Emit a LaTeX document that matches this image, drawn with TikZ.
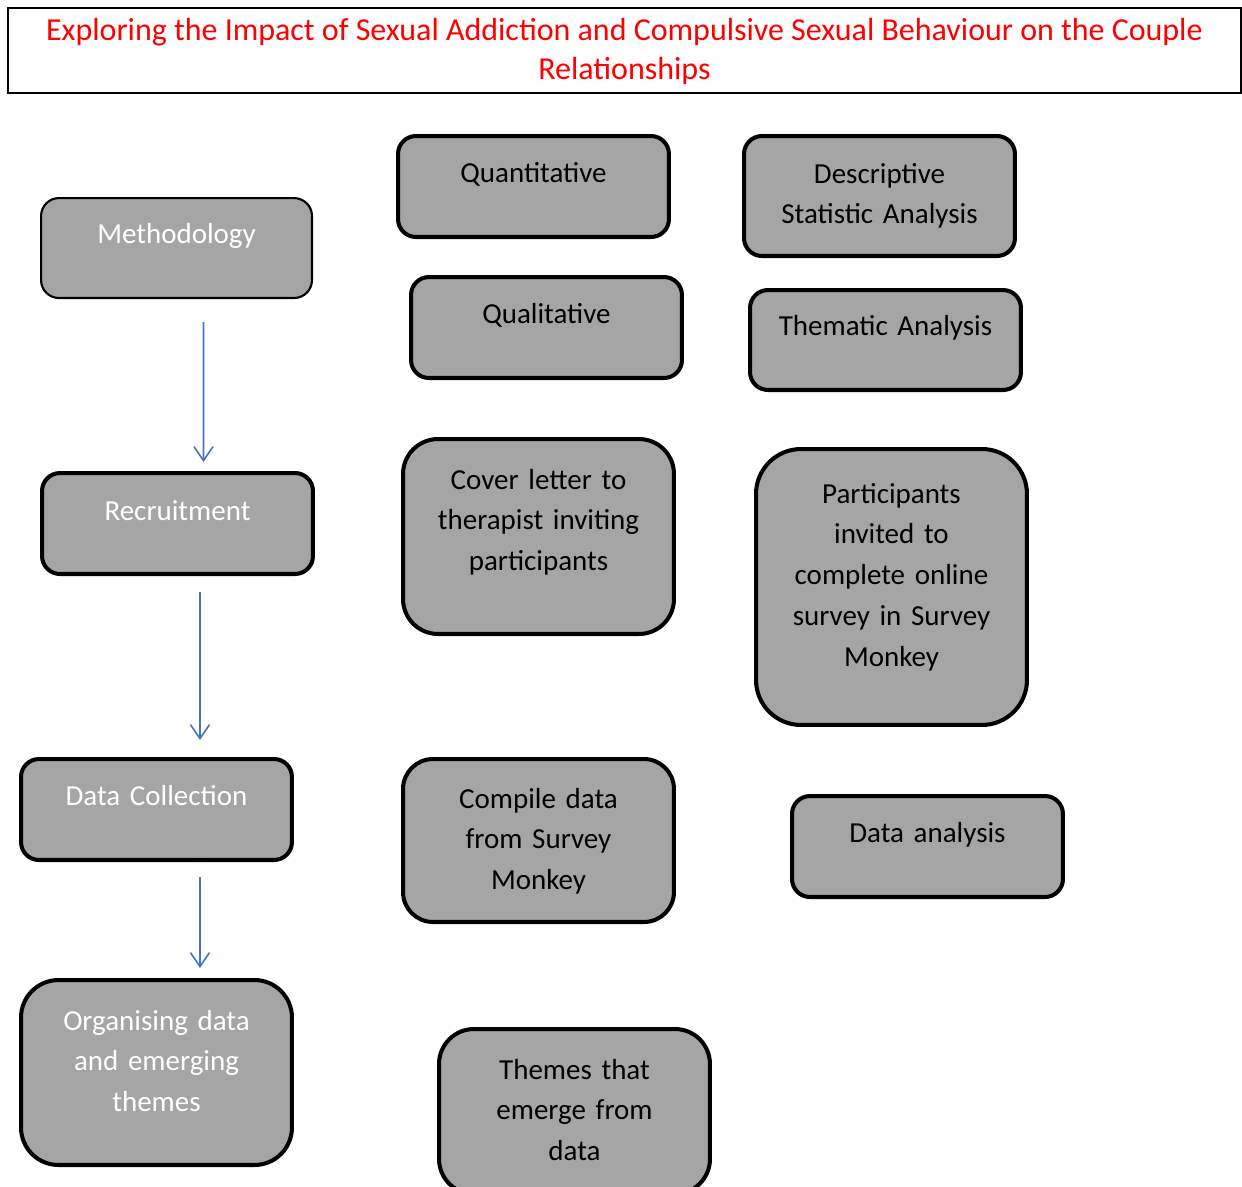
\documentclass[tikz,border=0pt]{standalone}
\usepackage{fontspec}
\setmainfont{Carlito}
\usepackage{xcolor}
\usetikzlibrary{arrows.meta}
\definecolor{boxgray}{RGB}{165,165,165}
\definecolor{flowblue}{RGB}{68,114,196}
\definecolor{titlered}{RGB}{255,0,0}

\begin{document}
\begin{tikzpicture}[
    x=0.02cm, y=-0.02cm,
    font=\fontsize{16.5}{23.3}\selectfont,
    box/.style={draw, line width=2.3pt, fill=boxgray, rounded corners=0.36cm, align=center, text width=5.42cm, inner xsep=0pt, inner ysep=0pt, anchor=north west, text height=0.92cm, text depth=1.10cm},
    stage/.style={box, text=white},
    titlebox/.style={draw, line width=0.9pt, align=center, text=titlered, font=\fontsize{18.2}{22.1}\selectfont, minimum width=24.66cm, inner sep=0pt, anchor=north, text height=1.44cm, text depth=0.26cm},
    flow/.style={-{Straight Barb[length=0.28cm,width=0.38cm]}, line width=0.9pt, draw=flowblue}
]
\useasboundingbox (0,0) rectangle (1242,1187);
\node[titlebox] (title) at (624.5,7) {Exploring the Impact of Sexual Addiction and Compulsive Sexual Behaviour on the Couple\\Relationships};

% left column
\node[stage, line width=1.2pt, text height=0.9cm, text depth=1.1cm] (method) at (40,197) {Methodology};
\node[stage, text height=0.94cm, text depth=1.08cm] (recruit) at (40,471) {Recruitment};
\node[stage] (collect) at (19,757) {Data Collection};
\node[stage, rounded corners=0.75cm, text height=1.0cm, text depth=2.7cm] (organise) at (19,978) {Organising data\\and emerging\\themes};

% middle column
\node[box] (quant) at (396,134) {Quantitative};
\node[box] (qual) at (409,275) {Qualitative};
\node[box, rounded corners=0.7cm, text height=1.0cm, text depth=2.9cm] (cover) at (401,437) {Cover letter to\\therapist inviting\\participants};
\node[box, rounded corners=0.6cm, text height=0.98cm, text depth=2.28cm] (compile) at (401,757) {Compile data\\from Survey\\Monkey};
\node[box, rounded corners=0.7cm, text height=1.0cm, text depth=2.3cm] (themes) at (437,1027) {Themes that\\emerge from\\data};

% right column
\node[box, text height=0.94cm, text depth=1.46cm] (descr) at (742,134) {Descriptive\\Statistic Analysis};
\node[box, text height=0.9cm, text depth=1.1cm] (thematic) at (748,288) {Thematic Analysis};
\node[box, rounded corners=0.9cm, text height=1.08cm, text depth=4.44cm] (invite) at (754,447) {Participants\\invited to\\complete online\\survey in Survey\\Monkey};
\node[box] (analysis) at (790,794) {Data analysis};

\draw[flow] ([xshift=0.54cm,yshift=-0.46cm]method.south) -- ([xshift=0.52cm,yshift=0.18cm]recruit.north);
\draw[flow] ([xshift=0.45cm,yshift=-0.32cm]recruit.south) -- ([xshift=0.87cm,yshift=0.34cm]collect.north);
\draw[flow] ([xshift=0.87cm,yshift=-0.30cm]collect.south) -- ([xshift=0.87cm,yshift=0.2cm]organise.north);
\end{tikzpicture}
\end{document}
